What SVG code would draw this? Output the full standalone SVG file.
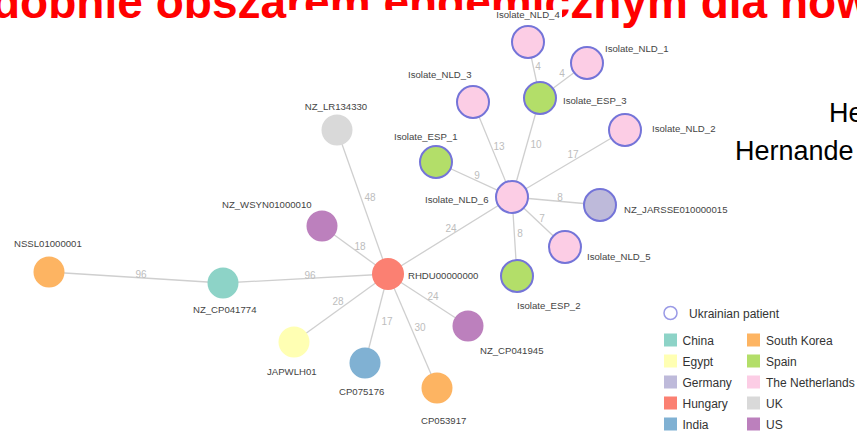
<svg xmlns="http://www.w3.org/2000/svg" width="857" height="431" viewBox="0 0 857 431">
<style>
.edge{stroke:#cfcfcf;stroke-width:1.3;fill:none}
.el{font-family:"Liberation Sans",Arial,sans-serif;font-size:10px;fill:#bdbdbd;text-anchor:middle}
.nl{font-family:"Liberation Sans",Arial,sans-serif;font-size:9.6px;fill:#444}
.ua{stroke:#7474d8;stroke-width:2}
.lg{font-family:"Liberation Sans",Arial,sans-serif;font-size:12px;fill:#333}
.title{font-family:"Liberation Sans",Arial,sans-serif;font-weight:bold;font-size:46px;fill:#ff0000}
.side{font-family:"Liberation Sans",Arial,sans-serif;font-size:27px;fill:#000}
</style>
<rect width="857" height="431" fill="#ffffff"/>
<text class="title" x="-8" y="17.5" textLength="880" lengthAdjust="spacingAndGlyphs">dobnie obszarem endemicznym dla now</text>
<rect x="288" y="10" width="274" height="10" fill="#ffffff"/>
<text class="side" x="829" y="122">He</text>
<text class="side" x="735" y="160">Hernande</text>

<g id="connectors">
<line class="edge" x1="388" y1="274" x2="512" y2="197"/>
<line class="edge" x1="388" y1="274" x2="337" y2="130"/>
<line class="edge" x1="388" y1="274" x2="322" y2="226"/>
<line class="edge" x1="388" y1="274" x2="223" y2="283"/>
<line class="edge" x1="388" y1="274" x2="294" y2="342"/>
<line class="edge" x1="388" y1="274" x2="365" y2="363"/>
<line class="edge" x1="388" y1="274" x2="437" y2="388"/>
<line class="edge" x1="388" y1="274" x2="468" y2="326"/>
<line class="edge" x1="223" y1="283" x2="49" y2="272"/>
<line class="edge" x1="512" y1="197" x2="473" y2="102"/>
<line class="edge" x1="512" y1="197" x2="540" y2="98"/>
<line class="edge" x1="512" y1="197" x2="625" y2="130"/>
<line class="edge" x1="512" y1="197" x2="436" y2="162"/>
<line class="edge" x1="512" y1="197" x2="600" y2="205"/>
<line class="edge" x1="512" y1="197" x2="565" y2="247"/>
<line class="edge" x1="512" y1="197" x2="517" y2="276"/>
<line class="edge" x1="540" y1="98" x2="528" y2="42"/>
<line class="edge" x1="540" y1="98" x2="587" y2="63"/>
<text class="el" x="538" y="70">4</text>
<text class="el" x="562" y="77">4</text>
<text class="el" x="499" y="149.5">13</text>
<text class="el" x="536" y="148">10</text>
<text class="el" x="573" y="158">17</text>
<text class="el" x="477" y="178.5">9</text>
<text class="el" x="560" y="201">8</text>
<text class="el" x="542" y="222">7</text>
<text class="el" x="520" y="237">8</text>
<text class="el" x="451" y="232">24</text>
<text class="el" x="433" y="299.5">24</text>
<text class="el" x="370" y="201">48</text>
<text class="el" x="360" y="249.5">18</text>
<text class="el" x="141" y="278">96</text>
<text class="el" x="310" y="278.5">96</text>
<text class="el" x="338" y="305">28</text>
<text class="el" x="387" y="324.5">17</text>
<text class="el" x="420" y="331">30</text>
</g>

<g id="Isolate_NLD_4"><circle class="ua" cx="528" cy="42" r="16" fill="#fccde5"/><text class="nl" x="528" y="18" text-anchor="middle">Isolate_NLD_4</text></g>
<g id="Isolate_NLD_1"><circle class="ua" cx="587" cy="63" r="16" fill="#fccde5"/><text class="nl" x="605" y="52">Isolate_NLD_1</text></g>
<g id="Isolate_NLD_3"><circle class="ua" cx="473" cy="102" r="16" fill="#fccde5"/><text class="nl" x="408" y="78">Isolate_NLD_3</text></g>
<g id="Isolate_ESP_3"><circle class="ua" cx="540" cy="98" r="16" fill="#b3de69"/><text class="nl" x="563" y="104">Isolate_ESP_3</text></g>
<g id="Isolate_NLD_2"><circle class="ua" cx="625" cy="130" r="16" fill="#fccde5"/><text class="nl" x="652" y="132">Isolate_NLD_2</text></g>
<g id="Isolate_ESP_1"><circle class="ua" cx="436" cy="162" r="16" fill="#b3de69"/><text class="nl" x="394" y="139.5">Isolate_ESP_1</text></g>
<g id="Isolate_NLD_6"><circle class="ua" cx="512" cy="197" r="16" fill="#fccde5"/><text class="nl" x="425" y="202.5">Isolate_NLD_6</text></g>
<g id="NZ_JARSSE010000015"><circle class="ua" cx="600" cy="205" r="16" fill="#bebada"/><text class="nl" x="624" y="213">NZ_JARSSE010000015</text></g>
<g id="Isolate_NLD_5"><circle class="ua" cx="565" cy="247" r="16" fill="#fccde5"/><text class="nl" x="587" y="260">Isolate_NLD_5</text></g>
<g id="Isolate_ESP_2"><circle class="ua" cx="517" cy="276" r="16" fill="#b3de69"/><text class="nl" x="517" y="309">Isolate_ESP_2</text></g>
<g id="RHDU00000000"><circle cx="388" cy="274" r="16" fill="#fb8072"/><text class="nl" x="408" y="279">RHDU00000000</text></g>
<g id="NZ_LR134330"><circle cx="337" cy="130" r="15.5" fill="#d9d9d9"/><text class="nl" x="336" y="109.5" text-anchor="middle">NZ_LR134330</text></g>
<g id="NZ_WSYN01000010"><circle cx="322" cy="226" r="15.5" fill="#bc80bd"/><text class="nl" x="222" y="208">NZ_WSYN01000010</text></g>
<g id="NSSL01000001"><circle cx="49" cy="272" r="15.5" fill="#fdb462"/><text class="nl" x="14" y="246.5">NSSL01000001</text></g>
<g id="NZ_CP041774"><circle cx="223" cy="283" r="15.5" fill="#8dd3c7"/><text class="nl" x="193" y="313">NZ_CP041774</text></g>
<g id="JAPWLH01"><circle cx="294" cy="342" r="15.5" fill="#ffffb3"/><text class="nl" x="267" y="375">JAPWLH01</text></g>
<g id="CP075176"><circle cx="365" cy="363" r="15.5" fill="#80b1d3"/><text class="nl" x="339" y="395">CP075176</text></g>
<g id="CP053917"><circle cx="437" cy="388" r="15.5" fill="#fdb462"/><text class="nl" x="421" y="424">CP053917</text></g>
<g id="NZ_CP041945"><circle cx="468" cy="326" r="15.5" fill="#bc80bd"/><text class="nl" x="480" y="354">NZ_CP041945</text></g>

<g id="legend">
<circle cx="670.5" cy="313" r="6.5" fill="none" stroke="#9a9ae6" stroke-width="1.5"/>
<text class="lg" x="689" y="317.5">Ukrainian patient</text>
<rect x="664" y="333.5" width="13" height="13" fill="#8dd3c7"/><text class="lg" x="682.5" y="344.5">China</text>
<rect x="664" y="354.5" width="13" height="13" fill="#ffffb3"/><text class="lg" x="682.5" y="365.5">Egypt</text>
<rect x="664" y="375.5" width="13" height="13" fill="#bebada"/><text class="lg" x="682.5" y="386.5">Germany</text>
<rect x="664" y="396.5" width="13" height="13" fill="#fb8072"/><text class="lg" x="682.5" y="407.5">Hungary</text>
<rect x="664" y="417.5" width="13" height="13" fill="#80b1d3"/><text class="lg" x="682.5" y="428.5">India</text>
<rect x="747" y="333.5" width="13" height="13" fill="#fdb462"/><text class="lg" x="766" y="344.5">South Korea</text>
<rect x="747" y="354.5" width="13" height="13" fill="#b3de69"/><text class="lg" x="766" y="365.5">Spain</text>
<rect x="747" y="375.5" width="13" height="13" fill="#fccde5"/><text class="lg" x="766" y="386.5">The Netherlands</text>
<rect x="747" y="396.5" width="13" height="13" fill="#d9d9d9"/><text class="lg" x="766" y="407.5">UK</text>
<rect x="747" y="417.5" width="13" height="13" fill="#bc80bd"/><text class="lg" x="766" y="428.5">US</text>
</g>
</svg>
